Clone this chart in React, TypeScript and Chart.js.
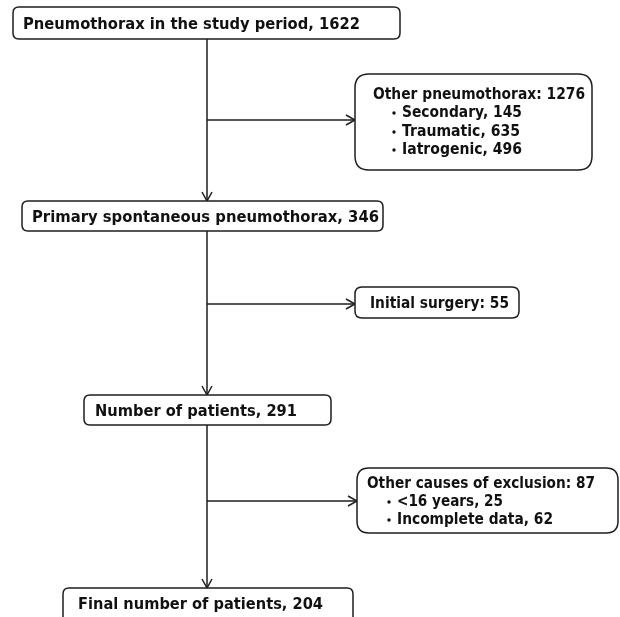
import React, { useEffect, useRef } from "react";
import { Chart, registerables } from "chart.js";

Chart.register(...registerables);

// ---- Data ----
const stageLabels = [
  "Pneumothorax in the study period",
  "Primary spontaneous pneumothorax",
  "Number of patients",
  "Final number of patients",
];
const stageCounts = [1622, 346, 291, 204];

const exclusionLabels = ["Other pneumothorax", "Initial surgery", "Other causes of exclusion"];
const exclusionCounts = [1276, 55, 87];

const otherPneumoLabels = ["Secondary", "Traumatic", "Iatrogenic"];
const otherPneumoCounts = [145, 635, 496];

const otherCauseLabels = ["<16 years", "Incomplete data"];
const otherCauseCounts = [25, 62];

// ---- Layout (in scale units, 0..620 x 0..617) ----
const stageBoxes = [
  { x0: 13, x1: 400, y0: 7, y1: 39, tx: 23, ty: 24, tw: 337 },
  { x0: 22, x1: 383, y0: 201, y1: 231, tx: 32, ty: 217, tw: 347 },
  { x0: 84, x1: 331, y0: 395, y1: 425, tx: 95, ty: 411, tw: 202 },
  { x0: 63, x1: 353, y0: 588, y1: 640, tx: 78, ty: 604, tw: 245 },
];
const exclBoxes = [
  { x0: 355, x1: 592, y0: 74, y1: 170, r: 14, tx: 373, ty: 94, tw: 212, branchY: 120, bx: 394, btx: 402, by: [112, 131, 149], bw: [120, 118, 120] },
  { x0: 355, x1: 519, y0: 287, y1: 318, r: 7, tx: 370, ty: 303, tw: 139, branchY: 304, bx: 0, btx: 0, by: [], bw: [] },
  { x0: 357, x1: 618, y0: 468, y1: 533, r: 12, tx: 367, ty: 483, tw: 228, branchY: 501, bx: 389, btx: 397, by: [501, 519], bw: [106, 156] },
];
const spineX = 207;

const INK = "#1e1e1e";
const FONT = "bold 16px 'DejaVu Sans', Verdana, sans-serif";

function roundRectPath(ctx: CanvasRenderingContext2D, x0: number, y0: number, x1: number, y1: number, r: number) {
  ctx.beginPath();
  ctx.moveTo(x0 + r, y0);
  ctx.lineTo(x1 - r, y0);
  ctx.quadraticCurveTo(x1, y0, x1, y0 + r);
  ctx.lineTo(x1, y1 - r);
  ctx.quadraticCurveTo(x1, y1, x1 - r, y1);
  ctx.lineTo(x0 + r, y1);
  ctx.quadraticCurveTo(x0, y1, x0, y1 - r);
  ctx.lineTo(x0, y0 + r);
  ctx.quadraticCurveTo(x0, y0, x0 + r, y0);
  ctx.closePath();
}

function fitText(ctx: CanvasRenderingContext2D, text: string, x: number, y: number, w: number) {
  ctx.save();
  ctx.font = FONT;
  ctx.fillStyle = "#111";
  ctx.textBaseline = "middle";
  ctx.textAlign = "left";
  const m = ctx.measureText(text).width;
  const s = w / m;
  ctx.translate(x, y + 0.5);
  ctx.scale(s, 1);
  ctx.fillText(text, 0, 0);
  ctx.restore();
}

function arrow(ctx: CanvasRenderingContext2D, x0: number, y0: number, x1: number, y1: number) {
  ctx.beginPath();
  ctx.moveTo(x0, y0);
  ctx.lineTo(x1, y1);
  ctx.stroke();
  const ang = Math.atan2(y1 - y0, x1 - x0);
  const L = 9, W = 5;
  const bx = x1 - L * Math.cos(ang), by = y1 - L * Math.sin(ang);
  const px = -Math.sin(ang), py = Math.cos(ang);
  ctx.beginPath();
  ctx.moveTo(bx + px * W, by + py * W);
  ctx.lineTo(x1, y1);
  ctx.lineTo(bx - px * W, by - py * W);
  ctx.stroke();
}

const flowPlugin = {
  id: "flow",
  afterDraw(chart: any) {
    const ctx: CanvasRenderingContext2D = chart.ctx;
    const X = (v: number) => chart.scales.x.getPixelForValue(v);
    const Y = (v: number) => chart.scales.y.getPixelForValue(v);
    ctx.save();
    ctx.strokeStyle = INK;
    ctx.lineWidth = 1.5;

    // spine arrows between stages
    for (let i = 0; i < stageBoxes.length - 1; i++) {
      arrow(ctx, X(spineX), Y(stageBoxes[i].y1), X(spineX), Y(stageBoxes[i + 1].y0));
    }
    // branch arrows
    exclBoxes.forEach((b) => {
      arrow(ctx, X(spineX), Y(b.branchY), X(b.x0), Y(b.branchY));
    });

    // stage boxes
    stageBoxes.forEach((b, i) => {
      ctx.fillStyle = "#fff";
      roundRectPath(ctx, X(b.x0), Y(b.y0), X(b.x1), Y(b.y1), 6);
      ctx.fill();
      ctx.stroke();
      fitText(ctx, `${stageLabels[i]}, ${stageCounts[i]}`, X(b.tx), Y(b.ty), b.tw);
    });

    // exclusion boxes
    const details = [
      otherPneumoLabels.map((l, k) => `${l}, ${otherPneumoCounts[k]}`),
      [] as string[],
      otherCauseLabels.map((l, k) => `${l}, ${otherCauseCounts[k]}`),
    ];
    exclBoxes.forEach((b, i) => {
      ctx.fillStyle = "#fff";
      roundRectPath(ctx, X(b.x0), Y(b.y0), X(b.x1), Y(b.y1), b.r);
      ctx.fill();
      ctx.stroke();
      fitText(ctx, `${exclusionLabels[i]}: ${exclusionCounts[i]}`, X(b.tx), Y(b.ty), b.tw);
      details[i].forEach((t, k) => {
        ctx.fillStyle = "#111";
        ctx.beginPath();
        ctx.arc(X(b.bx), Y(b.by[k]) + 1, 1.7, 0, Math.PI * 2);
        ctx.fill();
        fitText(ctx, t, X(b.btx), Y(b.by[k]), b.bw[k]);
      });
    });
    ctx.restore();
  },
};

export default function App() {
  const ref = useRef<HTMLCanvasElement | null>(null);
  useEffect(() => {
    document.body.style.margin = "0";
    const canvas = ref.current;
    if (!canvas) return;
    const chart = new Chart(canvas, {
      type: "scatter",
      data: {
        datasets: [
          {
            label: "nodes",
            data: stageBoxes.map((b) => ({ x: spineX, y: b.ty })),
            pointRadius: 0,
            showLine: false,
          },
        ],
      },
      options: {
        animation: false,
        responsive: false,
        devicePixelRatio: 1,
        layout: { padding: 0 },
        plugins: { legend: { display: false }, tooltip: { enabled: false } },
        events: [],
        scales: {
          x: { type: "linear", min: 0, max: 620, display: false },
          y: { type: "linear", min: 0, max: 617, reverse: true, display: false },
        },
      },
      plugins: [flowPlugin],
    });
    return () => chart.destroy();
  }, []);
  return (
    <div style={{ width: 620, height: 617, background: "#fff" }}>
      <canvas ref={ref} width={620} height={617} style={{ display: "block" }} />
    </div>
  );
}
